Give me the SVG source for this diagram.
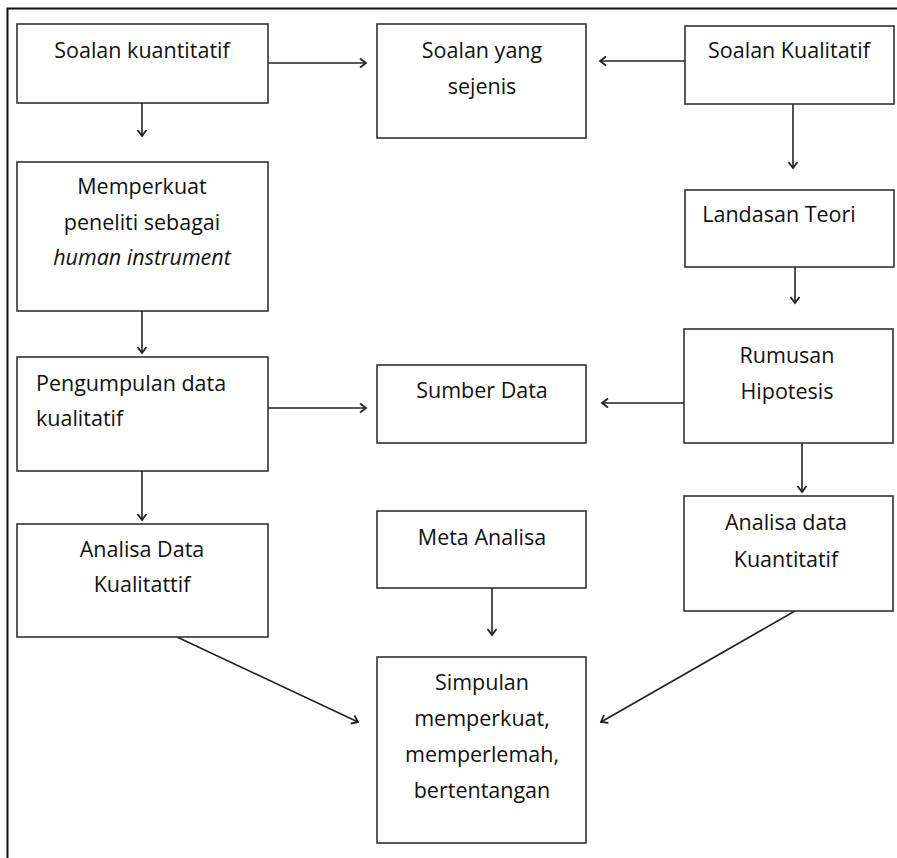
<svg xmlns="http://www.w3.org/2000/svg" width="897" height="858" viewBox="0 0 897 858">
<defs>
<marker id="ah" markerWidth="12" markerHeight="12" refX="10" refY="6" orient="auto" markerUnits="userSpaceOnUse">
<path d="M4,1.5 L10,6 L4,10.5" fill="none" stroke="#222" stroke-width="1.8"/>
</marker>
<style>
.b{fill:#fff;stroke:#333;stroke-width:1.6}
.t{font-family:"Open Sans","Liberation Sans",sans-serif;font-size:21.5px;fill:#111;text-anchor:middle}
.l{text-anchor:start}
.c{stroke:#222;stroke-width:1.6;fill:none;marker-end:url(#ah)}
</style>
</defs>
<rect width="897" height="858" fill="#fff"/>
<path d="M7.5,858 V8.5 H897" fill="none" stroke="#111" stroke-width="2"/>
<g id="connectors">
<line class="c" x1="268" y1="63" x2="366" y2="63"/>
<line class="c" x1="685" y1="61" x2="600" y2="61"/>
<line class="c" x1="142" y1="103" x2="142" y2="136"/>
<line class="c" x1="793" y1="104" x2="793" y2="168"/>
<line class="c" x1="795" y1="267" x2="795" y2="303"/>
<line class="c" x1="142" y1="311" x2="142" y2="353"/>
<line class="c" x1="268" y1="408" x2="366" y2="408"/>
<line class="c" x1="684" y1="403" x2="602" y2="403"/>
<line class="c" x1="802" y1="443" x2="802" y2="492"/>
<line class="c" x1="142" y1="471" x2="142" y2="520"/>
<line class="c" x1="492" y1="588" x2="492" y2="635"/>
<line class="c" x1="177" y1="637" x2="358" y2="722"/>
<line class="c" x1="795" y1="611" x2="601" y2="722"/>
</g>
<g id="soalan-kuantitatif"><rect class="b" x="17" y="24" width="251" height="79"/><text class="t" x="142" y="58">Soalan kuantitatif</text></g>
<g id="soalan-sejenis"><rect class="b" x="377" y="24" width="209" height="114"/><text class="t" x="482" y="58">Soalan yang</text><text class="t" x="482" y="94">sejenis</text></g>
<g id="soalan-kualitatif"><rect class="b" x="685" y="26" width="209" height="78"/><text class="t" x="789" y="58">Soalan Kualitatif</text></g>
<g id="memperkuat"><rect class="b" x="17" y="162" width="251" height="149"/><text class="t" x="142" y="194">Memperkuat</text><text class="t" x="142" y="230">peneliti sebagai</text><text class="t" x="142" y="265" font-style="italic">human instrument</text></g>
<g id="landasan-teori"><rect class="b" x="685" y="190" width="209" height="77"/><text class="t" x="779" y="222">Landasan Teori</text></g>
<g id="pengumpulan"><rect class="b" x="17" y="357" width="251" height="114"/><text class="t l" x="36" y="391">Pengumpulan data</text><text class="t l" x="36" y="426">kualitatif</text></g>
<g id="sumber-data"><rect class="b" x="377" y="365" width="209" height="78"/><text class="t" x="482" y="398">Sumber Data</text></g>
<g id="rumusan-hipotesis"><rect class="b" x="684" y="329" width="209" height="114"/><text class="t" x="787" y="363">Rumusan</text><text class="t" x="787" y="399">Hipotesis</text></g>
<g id="analisa-kuantitatif"><rect class="b" x="684" y="496" width="209" height="115"/><text class="t" x="786" y="530">Analisa data</text><text class="t" x="786" y="567">Kuantitatif</text></g>
<g id="analisa-kualitatif"><rect class="b" x="17" y="524" width="251" height="113"/><text class="t" x="142" y="557">Analisa Data</text><text class="t" x="142" y="592">Kualitattif</text></g>
<g id="meta-analisa"><rect class="b" x="377" y="511" width="209" height="77"/><text class="t" x="482" y="545">Meta Analisa</text></g>
<g id="simpulan"><rect class="b" x="377" y="657" width="209" height="186"/><text class="t" x="482" y="690">Simpulan</text><text class="t" x="482" y="726">memperkuat,</text><text class="t" x="482" y="762">memperlemah,</text><text class="t" x="482" y="798">bertentangan</text></g>
</svg>
